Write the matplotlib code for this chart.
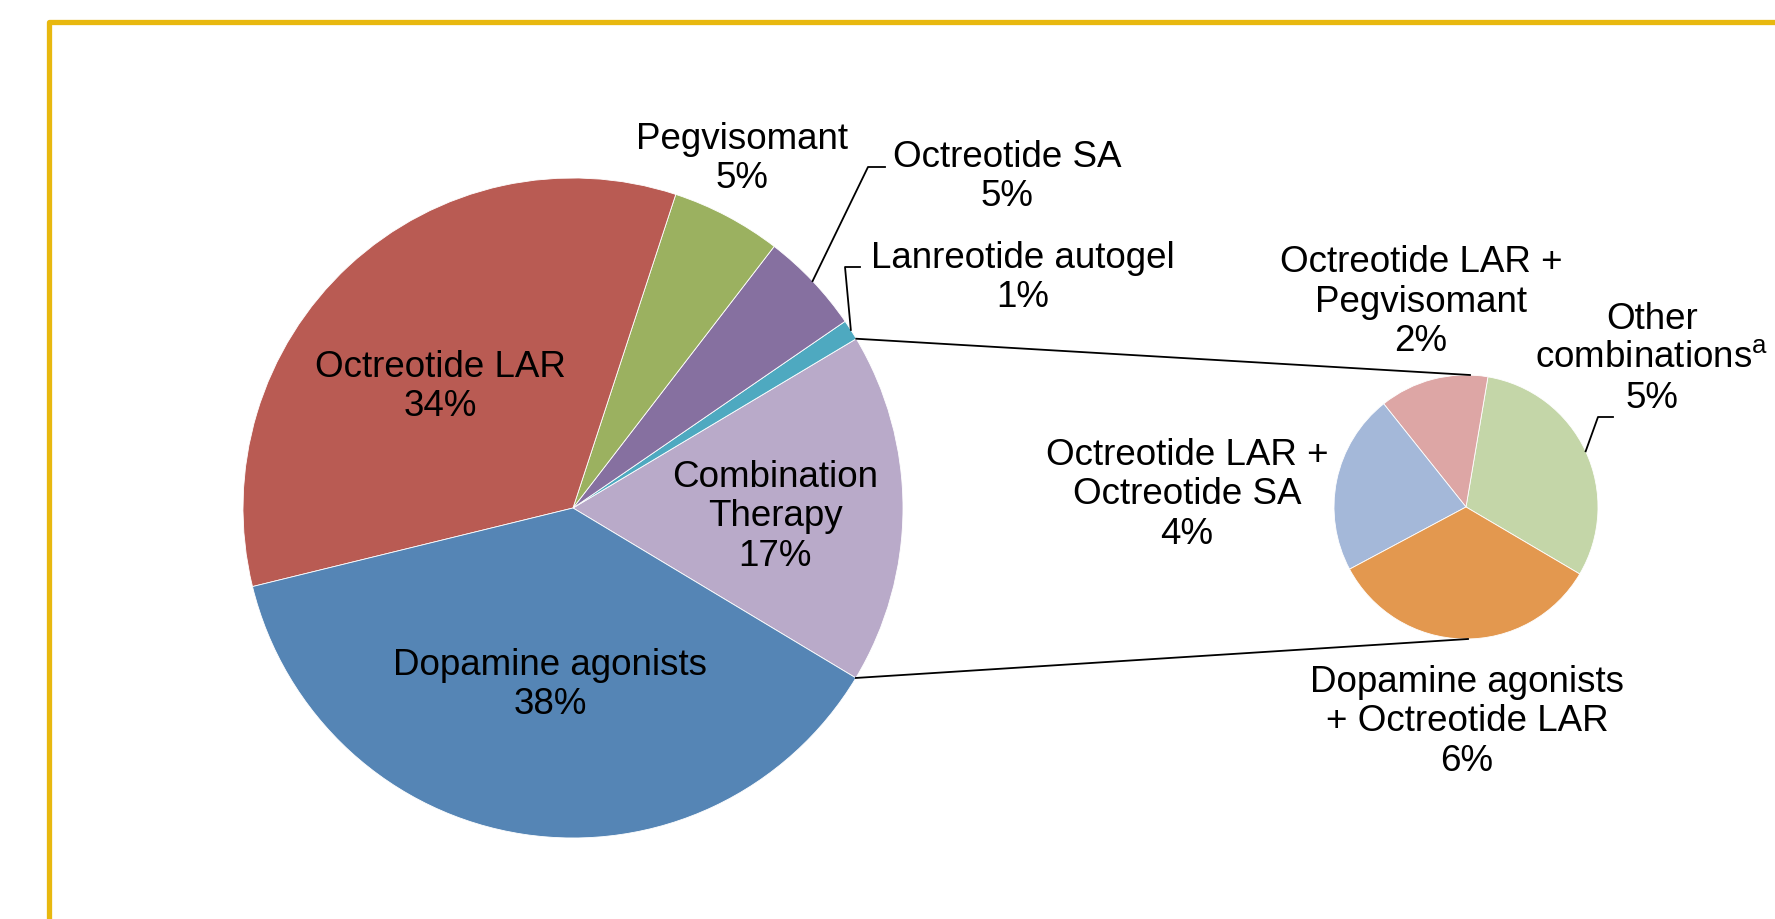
import numpy as np
import matplotlib
matplotlib.use("Agg")
import matplotlib.pyplot as plt

plt.rcParams['font.family'] = ['Liberation Sans', 'DejaVu Sans']
plt.rcParams['mathtext.fontset'] = 'custom'
plt.rcParams['mathtext.rm'] = 'Liberation Sans'

# main pie (counter-clockwise from the combination slice)
main_labels = ["Combination\nTherapy", "Lanreotide autogel", "Octreotide SA",
               "Pegvisomant", "Octreotide LAR", "Dopamine agonists"]
main_values = [17.2, 1.0, 5.0, 5.4, 33.9, 37.6]
main_colors = ["#B9AAC9", "#4EA9C0", "#8670A0", "#9BB160", "#B95B53", "#5585B5"]

# breakdown of combination therapy
sub_labels = ["Other\ncombinations$^\\mathregular{a}$", "Octreotide LAR +\nPegvisomant",
              "Octreotide LAR +\nOctreotide SA", "Dopamine agonists\n+ Octreotide LAR"]
sub_values = [5.3, 2.3, 3.8, 5.8]
sub_colors = ["#C4D6A8", "#DDA6A5", "#A4B8D9", "#E3984F"]

W, H = 1775, 920
fig = plt.figure(figsize=(W / 100, H / 100), dpi=100)
ax = fig.add_axes([0, 0, 1, 1])

c1, r1 = (573, H - 509), 330
c2, r2 = (1466, H - 508), 132

wp = dict(edgecolor="white", linewidth=0.6)
w1, _ = ax.pie(main_values, colors=main_colors, startangle=-31, counterclock=True,
               center=c1, radius=r1, wedgeprops=wp)
w2, _ = ax.pie(sub_values, colors=sub_colors, startangle=-30.5, counterclock=True,
               center=c2, radius=r2, wedgeprops=wp)

ax.set_xlim(0, W)
ax.set_ylim(0, H)
ax.set_aspect("equal")
ax.axis("off")


def edge(center, r, ang):
    a = np.deg2rad(ang)
    return center[0] + r * np.cos(a), center[1] + r * np.sin(a)


# connector lines between the combination wedge and the secondary pie
comb = w1[0]
p_top = edge(c1, r1, comb.theta2)
p_bot = edge(c1, r1, comb.theta1)
ax.plot([p_top[0], c2[0] + 4], [p_top[1], c2[1] + r2], color="black", lw=1.3)
ax.plot([p_bot[0], c2[0] + 2], [p_bot[1], c2[1] - r2], color="black", lw=1.3)

fs = 26.5
txt = dict(ha="center", va="center", fontsize=fs, linespacing=1.15, color="black")

# label positions (pixels, y from top)
main_pos = [(775, 517), (1023, 278), (1007, 177), (742, 159), (440, 387), (550, 685)]
sub_pos = [(1652, 359), (1421, 302), (1187, 495), (1467, 722)]

for lab, v, (x, y) in zip(main_labels, main_values, main_pos):
    ax.text(x, H - y, f"{lab}\n{v:.0f}%", **txt)
for lab, v, (x, y) in zip(sub_labels, sub_values, sub_pos):
    ax.text(x, H - y, f"{lab}\n{v:.0f}%", **txt)

# leader lines: wedge mid-angle -> elbow -> short horizontal
leaders = [
    (w1[2], c1, r1, (868, 168), 885),
    (w1[1], c1, r1, (845, 268), 860),
    (w2[0], c2, r2, (1598, 418), 1613),
]
for w, c, r, (ex, ey), hx in leaders:
    sx, sy = edge(c, r, (w.theta1 + w.theta2) / 2)
    ax.plot([sx, ex, hx], [sy, H - ey, H - ey], color="black", lw=1.3)

# yellow frame (top and left edges)
ax.plot([48.5, 48.5, W + 5], [-5, H - 22.5, H - 22.5], color="#E8B80F", lw=3.8,
        solid_joinstyle="round", clip_on=False)

fig.savefig("out.png", dpi=100)
